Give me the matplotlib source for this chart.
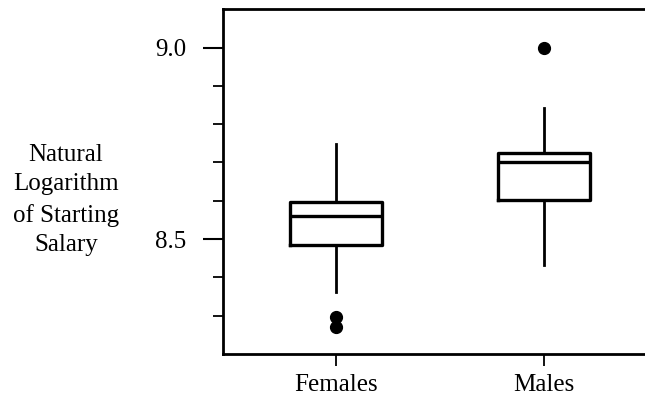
import matplotlib
matplotlib.use("Agg")
import matplotlib.pyplot as plt
from matplotlib.ticker import FixedLocator

# Summary statistics of log starting salary by group
groups = ["Females", "Males"]
q1 = [8.484, 8.602]
median = [8.561, 8.702]
q3 = [8.596, 8.724]
whisker_low = [8.362, 8.432]
whisker_high = [8.748, 8.842]
outliers = [[8.295, 8.270], [9.000]]

y_ticks = [8.5, 9.0]
y_tick_labels = ["8.5", "9.0"]
y_minor_ticks = [8.3, 8.4, 8.6, 8.7, 8.8, 8.9]

plt.rcParams["font.family"] = ["Liberation Serif", "DejaVu Serif"]

fig = plt.figure(figsize=(6.45, 3.98), dpi=100)
ax = fig.add_axes([223 / 645, 1 - 354 / 398, 1 - 223 / 645, (354 - 9) / 398])

stats = []
for i, name in enumerate(groups):
    stats.append(dict(label=name, q1=q1[i], med=median[i], q3=q3[i],
                      whislo=whisker_low[i], whishi=whisker_high[i],
                      fliers=outliers[i]))

positions = [1, 2]
ax.bxp(stats, positions=positions, widths=0.44, showcaps=False,
       boxprops=dict(color="black", linewidth=2.4),
       medianprops=dict(color="black", linewidth=2.4),
       whiskerprops=dict(color="black", linewidth=2.0),
       flierprops=dict(marker="o", markerfacecolor="black",
                       markeredgecolor="black", markersize=8.5))

ax.set_xlim(0.457, 2.486)
ax.set_ylim(8.1995, 9.101)

ax.set_yticks(y_ticks)
ax.set_yticklabels(y_tick_labels)
ax.yaxis.set_minor_locator(FixedLocator(y_minor_ticks))
ax.tick_params(axis="y", which="major", direction="out", length=14.5,
               width=1.5, pad=12, labelsize=18)
ax.tick_params(axis="y", which="minor", direction="out", length=7,
               width=1.3)
ax.set_xticks(positions)
ax.set_xticklabels(groups)
ax.tick_params(axis="x", which="major", direction="out", length=8.5,
               width=1.3, pad=6, labelsize=18)

for side in ("left", "top", "bottom"):
    ax.spines[side].set_linewidth(2.0)
ax.spines["right"].set_visible(False)

fig.text(66 / 645, 1 - 200 / 398,
         "Natural\nLogarithm\nof Starting\nSalary",
         ha="center", va="center", multialignment="center", fontsize=18,
         linespacing=1.45)

fig.savefig("out.png", dpi=100)
